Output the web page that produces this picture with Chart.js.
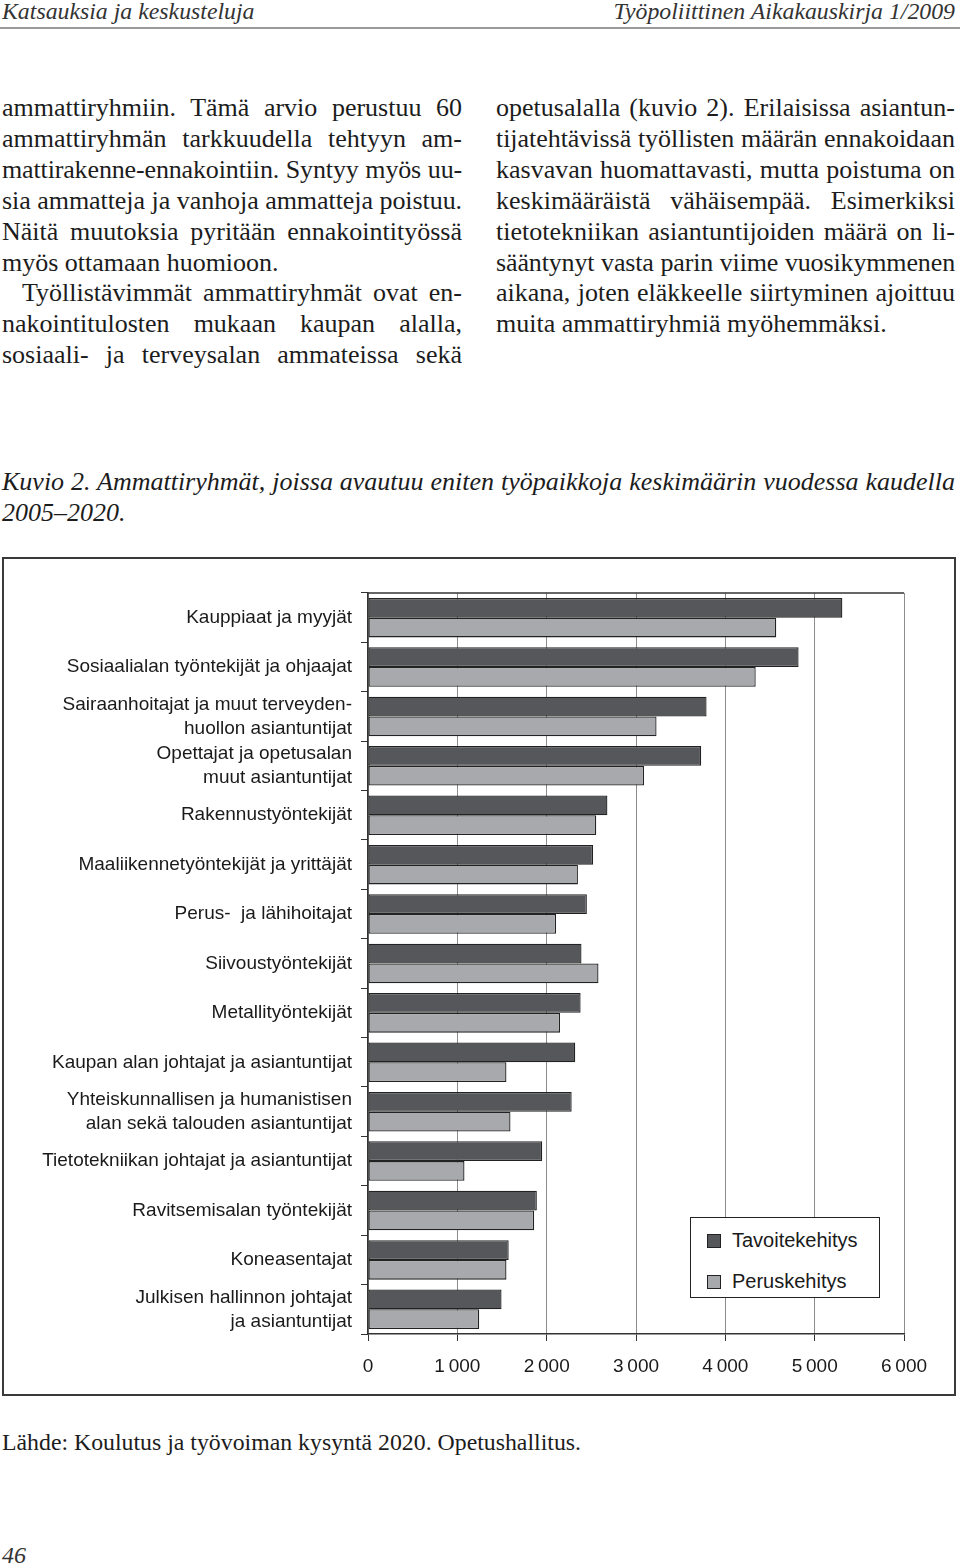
<!DOCTYPE html>
<html lang="fi">
<head>
<meta charset="utf-8">
<script src="https://cdn.jsdelivr.net/npm/chart.js@4.4.0/dist/chart.umd.min.js"></script>
<style>
  html, body { margin: 0; padding: 0; background: #fff; }
  body {
    width: 960px; height: 1566px; position: relative; overflow: hidden;
    color: #1c1c1c; font-family: "Liberation Serif", "Times New Roman", serif;
  }
  .hdr { position: absolute; top: -3px; font-style: italic; font-size: 23.8px; line-height: 28px; color: #333; white-space: nowrap; }
  .rule { position: absolute; left: 0; top: 27px; width: 960px; height: 1.5px; background: #9a9a9a; }
  .col { position: absolute; top: 93px; font-size: 26px; line-height: 30.9px; }
  .ln { white-space: nowrap; text-align: left; }
  .ln.j { text-align: justify; text-align-last: justify; }
  .caption { position: absolute; left: 2px; top: 466px; width: 953px; font-style: italic; font-size: 26px; line-height: 31px; }
  .chartbox { position: absolute; left: 2px; top: 557px; width: 954px; height: 839px; box-sizing: border-box; border: 2px solid #3a3a3a; }
  #chart { position: absolute; left: 4px; top: 560px; }
  .legend {
    position: absolute; left: 690px; top: 1217px; width: 190px; height: 81px; box-sizing: border-box;
    border: 1.5px solid #222; background: #fff; font-family: "Liberation Sans", Arial, sans-serif; font-size: 20px; color: #1a1a1a;
  }
  .legend .item { position: absolute; left: 16px; height: 24px; line-height: 24px; white-space: nowrap; }
  .legend .sw { display: inline-block; width: 14px; height: 14px; box-sizing: border-box; border: 1.2px solid #222; vertical-align: -1px; margin-right: 11px; }
  .source { position: absolute; left: 2px; top: 1428px; font-size: 23.8px; line-height: 28px; white-space: nowrap; }
  .pageno { position: absolute; left: 2px; top: 1541px; font-size: 24px; line-height: 28px; font-style: italic; color: #333; }
</style>
</head>
<body>
<div class="hdr" style="left:2px">Katsauksia ja keskusteluja</div>
<div class="hdr" style="right:5px">Työpoliittinen Aikakauskirja 1/2009</div>
<div class="rule"></div>

<div class="col" id="colLeft" style="left:2px;width:460px"></div>
<div class="col" id="colRight" style="left:496px;width:459px"></div>

<div class="caption">
  <div class="ln j">Kuvio 2. Ammattiryhmät, joissa avautuu eniten työpaikkoja keskimäärin vuodessa kaudella</div>
  <div class="ln">2005–2020.</div>
</div>

<div class="chartbox"></div>
<canvas id="chart" width="948" height="834"></canvas>
<div class="legend" id="legend"></div>

<div class="source">Lähde: Koulutus ja työvoiman kysyntä 2020. Opetushallitus.</div>
<div class="pageno">46</div>

<script>
// tekstipalstat, rivi kerrallaan (1 = tasattu rivi, 2 = tasattu ja sisennetty)
const leftLines = [
  ["ammattiryhmiin. Tämä arvio perustuu 60", 1],
  ["ammattiryhmän tarkkuudella tehtyyn am-", 1],
  ["mattirakenne-ennakointiin. Syntyy myös uu-", 1],
  ["sia ammatteja ja vanhoja ammatteja poistuu.", 1],
  ["Näitä muutoksia pyritään ennakointityössä", 1],
  ["myös ottamaan huomioon.", 0],
  ["Työllistävimmät ammattiryhmät ovat en-", 2],
  ["nakointitulosten mukaan kaupan alalla,", 1],
  ["sosiaali- ja terveysalan ammateissa sekä", 1],
];
const rightLines = [
  ["opetusalalla (kuvio 2). Erilaisissa asiantun-", 1],
  ["tijatehtävissä työllisten määrän ennakoidaan", 1],
  ["kasvavan huomattavasti, mutta poistuma on", 1],
  ["keskimääräistä vähäisempää. Esimerkiksi", 1],
  ["tietotekniikan asiantuntijoiden määrä on li-", 1],
  ["sääntynyt vasta parin viime vuosikymmenen", 1],
  ["aikana, joten eläkkeelle siirtyminen ajoittuu", 1],
  ["muita ammattiryhmiä myöhemmäksi.", 0],
];

// kuvion data
const categories = [
  "Kauppiaat ja myyjät",
  "Sosiaalialan työntekijät ja ohjaajat",
  ["Sairaanhoitajat ja muut terveyden-", "huollon asiantuntijat"],
  ["Opettajat ja opetusalan", "muut asiantuntijat"],
  "Rakennustyöntekijät",
  "Maaliikennetyöntekijät ja yrittäjät",
  "Perus-  ja lähihoitajat",
  "Siivoustyöntekijät",
  "Metallityöntekijät",
  "Kaupan alan johtajat ja asiantuntijat",
  ["Yhteiskunnallisen ja humanistisen", "alan sekä talouden asiantuntijat"],
  "Tietotekniikan johtajat ja asiantuntijat",
  "Ravitsemisalan työntekijät",
  "Koneasentajat",
  ["Julkisen hallinnon johtajat", "ja asiantuntijat"],
];
const seriesNames = ["Tavoitekehitys", "Peruskehitys"];
const tavoitekehitys = [5310, 4820, 3790, 3730, 2680, 2520, 2450, 2390, 2380, 2320, 2280, 1950, 1890, 1575, 1495];
const peruskehitys = [4570, 4340, 3230, 3090, 2555, 2350, 2105, 2580, 2150, 1550, 1595, 1080, 1860, 1550, 1245];
const xTickLabels = ["0", "1\u2009000", "2\u2009000", "3\u2009000", "4\u2009000", "5\u2009000", "6\u2009000"];
const seriesColors = ["#55575a", "#a8a9ac"];

function fillColumn(el, lines) {
  lines.forEach(([text, mode]) => {
    const d = document.createElement("div");
    d.className = "ln" + (mode ? " j" : "");
    if (mode === 2) d.style.textIndent = "20px";
    d.innerHTML = "<span>" + text + "</span>";
    el.appendChild(d);
  });
}
fillColumn(document.getElementById("colLeft"), leftLines);
fillColumn(document.getElementById("colRight"), rightLines);

// liian pitkät rivit tiivistetään palstan levyisiksi
document.querySelectorAll(".ln").forEach((d) => {
  const span = d.querySelector("span");
  if (!span) return;
  const avail = d.clientWidth - (parseFloat(d.style.textIndent) || 0);
  const w = span.getBoundingClientRect().width;
  if (w > avail) {
    d.style.letterSpacing = (-(w - avail + 1) / span.textContent.length).toFixed(3) + "px";
  }
});

// selite
const legendEl = document.getElementById("legend");
seriesNames.forEach((name, i) => {
  const it = document.createElement("div");
  it.className = "item";
  it.style.top = (10 + i * 41) + "px";
  it.innerHTML = '<span class="sw" style="background:' + seriesColors[i] + '"></span>' + name;
  legendEl.appendChild(it);
});

// kuva-alueen yläreuna
const topBorder = {
  id: "topBorder",
  beforeDatasetsDraw(chart) {
    const { ctx, chartArea: a } = chart;
    ctx.save();
    ctx.strokeStyle = "#333";
    ctx.lineWidth = 1.5;
    ctx.beginPath();
    ctx.moveTo(a.left, a.top);
    ctx.lineTo(a.right, a.top);
    ctx.stroke();
    ctx.restore();
  },
};

new Chart(document.getElementById("chart").getContext("2d"), {
  type: "bar",
  data: {
    labels: categories,
    datasets: [
      {
        label: seriesNames[0],
        data: tavoitekehitys,
        backgroundColor: seriesColors[0],
        borderColor: "#222",
        borderWidth: 1.3,
        borderSkipped: false,
      },
      {
        label: seriesNames[1],
        data: peruskehitys,
        backgroundColor: seriesColors[1],
        borderColor: "#222",
        borderWidth: 1.3,
        borderSkipped: false,
      },
    ],
  },
  options: {
    indexAxis: "y",
    responsive: false,
    animation: false,
    devicePixelRatio: 1,
    layout: { padding: { top: 31, right: 48, bottom: 20, left: 0 } },
    datasets: { bar: { categoryPercentage: 0.8, barPercentage: 1.0 } },
    scales: {
      x: {
        min: 0,
        max: 6000,
        ticks: {
          stepSize: 1000,
          color: "#1a1a1a",
          padding: 14,
          maxRotation: 0,
          font: { family: "'Liberation Sans', Arial, sans-serif", size: 19 },
          callback: (value, index) => xTickLabels[index],
        },
        grid: { color: "#8c8c8c", lineWidth: 1, tickColor: "#333", tickLength: 7 },
        border: { display: true, color: "#333", width: 1.5 },
        afterFit: (s) => { s.height = 40; },
      },
      y: {
        ticks: {
          color: "#1a1a1a",
          padding: 9,
          autoSkip: false,
          font: { family: "'Liberation Sans', Arial, sans-serif", size: 19, lineHeight: 1.26 },
        },
        grid: { drawOnChartArea: false, drawTicks: true, tickLength: 7, tickColor: "#333", offset: true },
        border: { display: true, color: "#333", width: 1.5 },
        afterFit: (s) => { s.width = 364; },
      },
    },
    plugins: {
      legend: { display: false },
      tooltip: { enabled: false },
      title: { display: false },
    },
  },
  plugins: [topBorder],
});
</script>
</body>
</html>
